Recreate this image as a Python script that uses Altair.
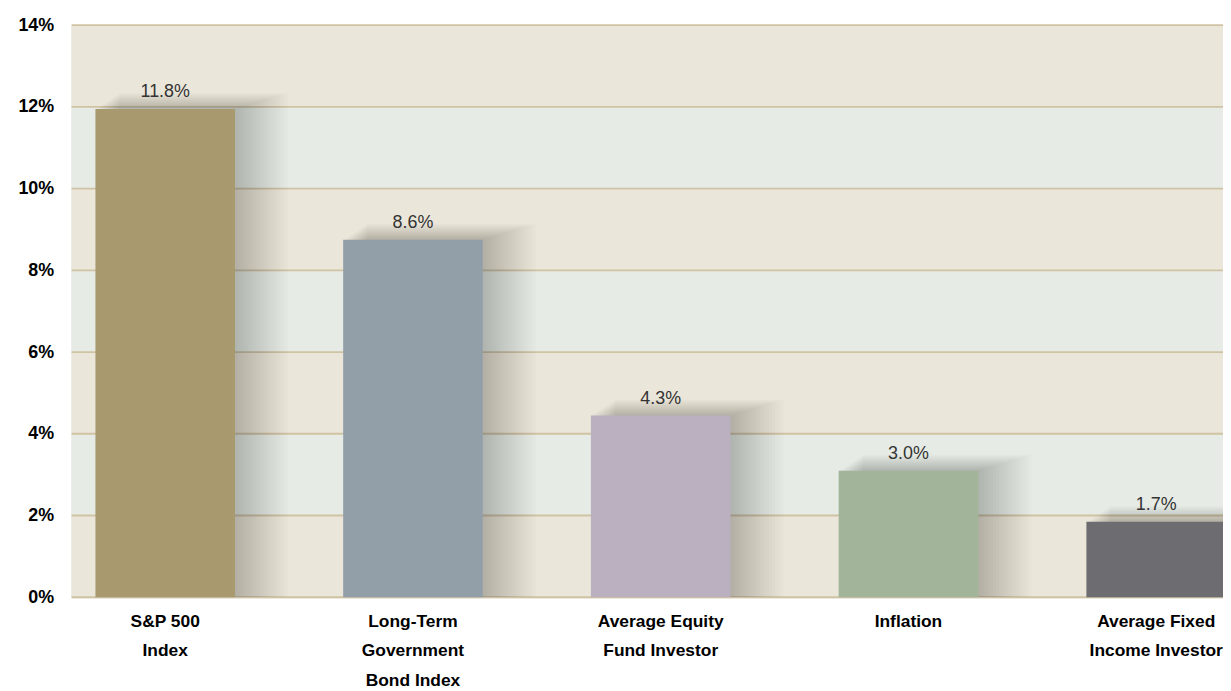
import altair as alt
import pandas as pd

# ---- data ----
categories = ["S&P 500\nIndex", "Long-Term\nGovernment\nBond Index",
              "Average Equity\nFund Investor", "Inflation",
              "Average Fixed\nIncome Investor"]
bar_heights = [11.95, 8.75, 4.45, 3.1, 1.85]          # drawn heights in picture
value_labels = ["11.8%", "8.6%", "4.3%", "3.0%", "1.7%"]
bar_colors = ["#a89a6e", "#929fa8", "#bab0bf", "#a2b59a", "#6d6d71"]

band_starts = [0, 2, 4, 6, 8, 10, 12]
band_ends = [2, 4, 6, 8, 10, 12, 14]
band_colors = ["#ebe6da", "#e6ebe5", "#ebe6da", "#e6ebe5",
               "#ebe6da", "#e6ebe5", "#ebe6da"]
grid_values = [0, 2, 4, 6, 8, 10, 12, 14]

# ---- layout ----
W = 1159
H = 576
PX_PER_UNIT = H / 14.0
FONT = "Liberation Sans"
BAR_W = 140.5

bars = pd.DataFrame({"cat": categories, "h": bar_heights,
                     "lab": value_labels, "color": bar_colors})
bands = pd.DataFrame({"lo": band_starts, "hi": band_ends, "color": band_colors})
grid = pd.DataFrame({"v": grid_values})

xscale = alt.Scale(domain=categories, range=[24, 1162], paddingInner=0.4366,
                   paddingOuter=0)
yscale = alt.Scale(domain=[0, 14], nice=False)

x_axis = alt.Axis(title=None, labelAngle=0, domain=False, ticks=False,
                  labelPadding=15, labelBaseline="top",
                  labelFont=FONT, labelFontWeight="bold", labelFontSize=17.5,
                  labelColor="#000000", labelLineHeight=30,
                  labelExpr="split(datum.label, '\\n')", labelLimit=300)
y_axis = alt.Axis(title=None, values=grid_values, domain=False, ticks=False,
                  grid=False, labelPadding=18, labelFont=FONT,
                  labelFontWeight="bold", labelFontSize=18, labelColor="#000000",
                  labelExpr="datum.value + '%'")

band_layer = alt.Chart(bands).mark_rect().encode(
    x=alt.value(0), x2=alt.value(W),
    y=alt.Y("lo:Q", scale=yscale, axis=y_axis), y2="hi:Q",
    color=alt.Color("color:N", scale=None),
)

grid_layer = alt.Chart(grid).mark_rule(color="#cfc3a3", strokeWidth=2).encode(
    y=alt.Y("v:Q", scale=yscale)
)

# soft blurred shadow, offset to the right and up
shadow_layers = []
for k in range(3, 55, 3):
    sd = bars.copy()
    sd["top"] = sd["h"] + (k * 0.3) / PX_PER_UNIT
    left_shift = k * 0.45
    shadow_layers.append(
        alt.Chart(sd).mark_bar(color="#000000", opacity=0.012,
                               width=BAR_W + k - left_shift,
                               xOffset=(k + left_shift) / 2.0).encode(
            x=alt.X("cat:N", scale=xscale, sort=categories, axis=x_axis),
            y=alt.Y("top:Q", scale=yscale), y2=alt.datum(0),
        )
    )

bar_layer = alt.Chart(bars).mark_bar(width=BAR_W).encode(
    x=alt.X("cat:N", scale=xscale, sort=categories, axis=x_axis),
    y=alt.Y("h:Q", scale=yscale),
    color=alt.Color("color:N", scale=None),
)

text_layer = alt.Chart(bars).mark_text(
    baseline="bottom", dy=-8, fontSize=18, font=FONT, color="#333333"
).encode(
    x=alt.X("cat:N", scale=xscale, sort=categories),
    y=alt.Y("h:Q", scale=yscale),
    text="lab:N",
)

chart = alt.layer(band_layer, grid_layer, *shadow_layers, bar_layer, text_layer).properties(
    width=W, height=H,
    autosize=alt.AutoSizeParams(type="none"),
    padding={"left": 64, "top": 15, "right": 0, "bottom": 90},
).configure_view(strokeWidth=0).configure(background="#ffffff")

chart.save("out.html", embed_options={"renderer": "svg", "actions": False})
